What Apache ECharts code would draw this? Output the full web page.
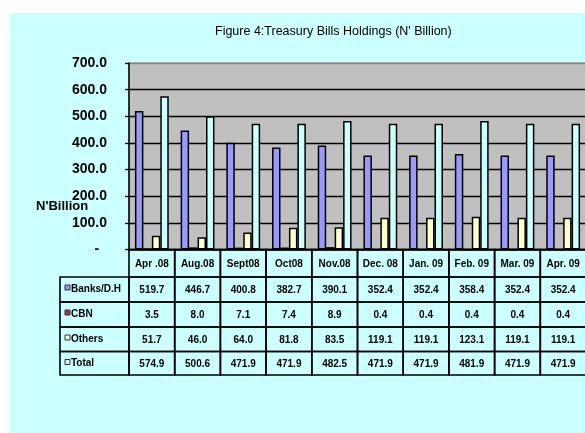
<!DOCTYPE html>
<html>
<head>
<meta charset="utf-8">
<script src="https://cdn.jsdelivr.net/npm/echarts@6/dist/echarts.min.js"></script>
<style>
  html, body { margin: 0; padding: 0; overflow: hidden; background: #fff; width: 585px; height: 433px; }
  #bg { position: absolute; left: 10px; top: 13px; width: 590px; height: 420px; background: #ccffff; }
  #chart { position: absolute; left: 0; top: 0; width: 600px; height: 433px; }
</style>
</head>
<body>
<div id="bg"></div>
<div id="chart"></div>
<script>
// months shown in the data table
const categories = ['Apr .08', 'Aug.08', 'Sept08', 'Oct08', 'Nov.08', 'Dec. 08', 'Jan. 09', 'Feb. 09', 'Mar. 09', 'Apr. 09'];
const banks = [519.7, 446.7, 400.8, 382.7, 390.1, 352.4, 352.4, 358.4, 352.4, 352.4];
const cbn = [3.5, 8.0, 7.1, 7.4, 8.9, 0.4, 0.4, 0.4, 0.4, 0.4];
const others = [51.7, 46.0, 64.0, 81.8, 83.5, 119.1, 119.1, 123.1, 119.1, 119.1];
const total = [574.9, 500.6, 471.9, 471.9, 482.5, 471.9, 471.9, 481.9, 471.9, 471.9];
const seriesNames = ['Banks/D.H', 'CBN', 'Others', 'Total'];
const yMax = 700;
const yStep = 100;

const colors = ['#9999ff', '#993366', '#ffffcc', '#ccffff'];
const font = 'Arial, "Liberation Sans", sans-serif';

const chart = echarts.init(document.getElementById('chart'));
const allData = [banks, cbn, others, total];

chart.setOption({
  animation: false,
  title: {
    text: "Figure 4:Treasury Bills Holdings (N' Billion)",
    left: 215, top: 25, padding: 0,
    textStyle: { fontSize: 12.5, fontWeight: 'normal', color: '#000', fontFamily: font }
  },
  grid: {
    left: 129, top: 63, right: 14, bottom: 183.5,
    show: true, backgroundColor: '#c0c0c0', borderColor: '#808080', borderWidth: 1
  },
  xAxis: {
    type: 'category',
    data: categories,
    axisLine: { lineStyle: { color: '#000', width: 1.5 } },
    axisTick: { show: false },
    axisLabel: { show: false }
  },
  yAxis: {
    type: 'value',
    min: 0, max: yMax, interval: yStep,
    axisLine: { show: true, lineStyle: { color: '#000', width: 1.5 } },
    axisTick: { show: true, length: 4, lineStyle: { color: '#000', width: 1.3 } },
    axisLabel: {
      margin: 22, color: '#000', fontSize: 14, fontWeight: 'bold', fontFamily: font,
      formatter: v => v === 0 ? '-  ' : v.toFixed(1)
    },
    splitLine: { lineStyle: { color: ['#000', '#000', '#000', '#000', '#000', '#000', '#000', '#7a8a8a'], width: 1.3 } }
  },
  series: seriesNames.map((name, k) => ({
    name,
    type: 'bar',
    data: allData[k],
    barGap: '0%',
    barCategoryGap: '26%',
    itemStyle: { color: colors[k], borderColor: '#000', borderWidth: 1.5 }
  }))
});

// data table under the plot
const c0 = chart.convertToPixel({ xAxisIndex: 0 }, 0);
const band = chart.convertToPixel({ xAxisIndex: 0 }, 1) - c0;
const tableLeft = c0 - band / 2;
const rowY = [249.5, 277, 302, 327, 351.5, 375];
const labelLeft = 60;
const els = [];
const cellText = (x, y, text, align) => ({
  type: 'text', x, y, z: 10,
  style: { text, fill: '#000', fontSize: 10, fontWeight: 'bold', fontFamily: font, align: align || 'center', verticalAlign: 'middle' }
});

for (let r = 0; r < 5; r++) {
  const y = rowY[r], h = rowY[r + 1] - rowY[r];
  categories.forEach((cat, i) => {
    const cx = chart.convertToPixel({ xAxisIndex: 0 }, i);
    els.push({ type: 'rect', z: 9, shape: { x: cx - band / 2, y, width: band, height: h },
      style: { fill: 'none', stroke: '#000', lineWidth: 1.6 } });
    const txt = r === 0 ? cat : allData[r - 1][i].toFixed(1);
    els.push(cellText(cx, y + h / 2 + 1, txt));
  });
  if (r > 0) {
    els.push({ type: 'rect', z: 9, shape: { x: labelLeft, y, width: tableLeft - labelLeft, height: h },
      style: { fill: 'none', stroke: '#000', lineWidth: 1.6 } });
    els.push({ type: 'rect', z: 10, shape: { x: labelLeft + 5, y: y + 8, width: 5, height: 5 },
      style: { fill: colors[r - 1], stroke: '#333', lineWidth: 1 } });
    els.push(cellText(labelLeft + 11, y + h / 2, seriesNames[r - 1], 'left'));
  }
}

els.push({ type: 'text', x: 36, y: 206, z: 10,
  style: { text: "N'Billion", fill: '#000', fontSize: 13, fontWeight: 'bold', fontFamily: font, verticalAlign: 'middle' } });

chart.setOption({ graphic: els });
</script>
</body>
</html>
